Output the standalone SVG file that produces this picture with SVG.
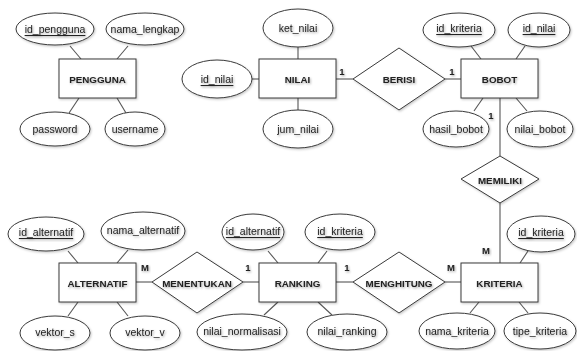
<svg xmlns="http://www.w3.org/2000/svg" width="577" height="351" viewBox="0 0 577 351">
  <defs>
    <filter id="soft" x="-20%" y="-20%" width="140%" height="150%">
      <feDropShadow dx="1" dy="1.2" stdDeviation="0.8" flood-color="#000" flood-opacity="0.35"/>
    </filter>
    <filter id="faint" x="-20%" y="-20%" width="140%" height="150%">
      <feDropShadow dx="1" dy="1.2" stdDeviation="0.9" flood-color="#000" flood-opacity="0.22"/>
    </filter>
  </defs>
  <style>
    .ent { fill: #fff; stroke: #3a3a3a; stroke-width: 1; filter: url(#faint); }
    .rel { fill: #fff; stroke: #3a3a3a; stroke-width: 1; filter: url(#faint); }
    .att { fill: #fff; stroke: #3a3a3a; stroke-width: 1; filter: url(#faint); }
    .lnk { stroke: #555; stroke-width: 1.1; fill: none; }
    text { font-family: "Liberation Sans", Arial, sans-serif; fill: #222; text-anchor: middle; dominant-baseline: central; filter: url(#soft); }
    .t-ent { font-size: 9.8px; font-weight: bold; }
    .t-rel { font-size: 9.8px; font-weight: bold; }
    .t-att { font-size: 10.5px; }
    .key { text-decoration: underline; }
    .card { font-size: 9.5px; font-weight: bold; }
  </style>

  <rect width="577" height="351" fill="#fff"/>

  <!-- connectors -->
  <g id="connectors">
    <!-- PENGGUNA attributes -->
    <line class="lnk" x1="70" y1="46" x2="81" y2="59"/>
    <line class="lnk" x1="128" y1="46" x2="117" y2="59"/>
    <line class="lnk" x1="69" y1="113" x2="79" y2="98"/>
    <line class="lnk" x1="126" y1="113" x2="117" y2="98"/>
    <!-- NILAI attributes -->
    <line class="lnk" x1="298" y1="47" x2="298" y2="59"/>
    <line class="lnk" x1="252" y1="79" x2="259" y2="79"/>
    <line class="lnk" x1="298" y1="98" x2="298" y2="110"/>
    <!-- NILAI - BERISI - BOBOT -->
    <line class="lnk" x1="336" y1="79" x2="353" y2="79"/>
    <line class="lnk" x1="445" y1="79" x2="461" y2="79"/>
    <!-- BOBOT attributes -->
    <line class="lnk" x1="471" y1="46" x2="481" y2="59"/>
    <line class="lnk" x1="525" y1="46" x2="516" y2="59"/>
    <line class="lnk" x1="474" y1="111" x2="483" y2="98"/>
    <line class="lnk" x1="516" y1="98" x2="527" y2="111"/>
    <!-- BOBOT - MEMILIKI - KRITERIA -->
    <line class="lnk" x1="500" y1="98" x2="500" y2="156"/>
    <line class="lnk" x1="500" y1="203" x2="500" y2="263"/>
    <!-- KRITERIA attributes -->
    <line class="lnk" x1="520" y1="263" x2="528" y2="251"/>
    <line class="lnk" x1="470" y1="313" x2="479" y2="302"/>
    <line class="lnk" x1="519" y1="302" x2="528" y2="313"/>
    <!-- RANKING - MENGHITUNG - KRITERIA -->
    <line class="lnk" x1="336" y1="282" x2="353" y2="282"/>
    <line class="lnk" x1="445" y1="282" x2="461" y2="282"/>
    <!-- RANKING attributes -->
    <line class="lnk" x1="268" y1="251" x2="278" y2="263"/>
    <line class="lnk" x1="327" y1="251" x2="318" y2="263"/>
    <line class="lnk" x1="278" y1="302" x2="264" y2="315"/>
    <line class="lnk" x1="318" y1="302" x2="332" y2="315"/>
    <!-- ALTERNATIF - MENENTUKAN - RANKING -->
    <line class="lnk" x1="136" y1="282" x2="152" y2="282"/>
    <line class="lnk" x1="243" y1="282" x2="259" y2="282"/>
    <!-- ALTERNATIF attributes -->
    <line class="lnk" x1="68" y1="251" x2="78" y2="263"/>
    <line class="lnk" x1="128" y1="250" x2="117" y2="263"/>
    <line class="lnk" x1="78" y1="302" x2="68" y2="316"/>
    <line class="lnk" x1="117" y1="302" x2="128" y2="316"/>
  </g>

  <!-- PENGGUNA -->
  <g id="pengguna">
    <rect class="ent" x="59" y="59" width="77" height="39"/>
    <text class="t-ent" x="97.5" y="79">PENGGUNA</text>
  </g>
  <g id="pengguna-id">
    <ellipse class="att" cx="55" cy="29" rx="39" ry="16"/>
    <text class="t-att key" x="55" y="29">id_pengguna</text>
  </g>
  <g id="pengguna-nama">
    <ellipse class="att" cx="145" cy="29" rx="39" ry="16"/>
    <text class="t-att" x="145" y="29">nama_lengkap</text>
  </g>
  <g id="pengguna-password">
    <ellipse class="att" cx="55" cy="129" rx="35" ry="17"/>
    <text class="t-att" x="55" y="129">password</text>
  </g>
  <g id="pengguna-username">
    <ellipse class="att" cx="135" cy="129" rx="30" ry="17"/>
    <text class="t-att" x="135" y="129">username</text>
  </g>

  <!-- NILAI -->
  <g id="nilai">
    <rect class="ent" x="259" y="59" width="77" height="39"/>
    <text class="t-ent" x="297.5" y="79">NILAI</text>
  </g>
  <g id="nilai-ket">
    <ellipse class="att" cx="298" cy="28" rx="35" ry="19"/>
    <text class="t-att" x="298" y="28">ket_nilai</text>
  </g>
  <g id="nilai-id">
    <ellipse class="att" cx="217" cy="79" rx="35" ry="19"/>
    <text class="t-att key" x="217" y="79">id_nilai</text>
  </g>
  <g id="nilai-jum">
    <ellipse class="att" cx="298" cy="129" rx="35" ry="19"/>
    <text class="t-att" x="298" y="129">jum_nilai</text>
  </g>

  <!-- BERISI -->
  <g id="berisi">
    <polygon class="rel" points="399,48 445,79 399,110 353,79"/>
    <text class="t-rel" x="399" y="79">BERISI</text>
    <text class="card" x="342" y="71">1</text>
    <text class="card" x="452" y="71">1</text>
  </g>

  <!-- BOBOT -->
  <g id="bobot">
    <rect class="ent" x="461" y="59" width="77" height="39"/>
    <text class="t-ent" x="499.5" y="79">BOBOT</text>
  </g>
  <g id="bobot-idkriteria">
    <ellipse class="att" cx="459" cy="30" rx="36" ry="17"/>
    <text class="t-att key" x="459" y="28">id_kriteria</text>
  </g>
  <g id="bobot-idnilai">
    <ellipse class="att" cx="539" cy="30" rx="31" ry="17"/>
    <text class="t-att key" x="539" y="28">id_nilai</text>
  </g>
  <g id="bobot-hasil">
    <ellipse class="att" cx="456" cy="129" rx="33" ry="18"/>
    <text class="t-att" x="456" y="129">hasil_bobot</text>
  </g>
  <g id="bobot-nilai">
    <ellipse class="att" cx="540" cy="129" rx="33" ry="18"/>
    <text class="t-att" x="540" y="129">nilai_bobot</text>
  </g>
  <text class="card" x="491" y="115">1</text>

  <!-- MEMILIKI -->
  <g id="memiliki">
    <polygon class="rel" points="500,156 539,179 500,203 461,179"/>
    <text class="t-rel" x="500" y="180">MEMILIKI</text>
  </g>

  <!-- KRITERIA -->
  <g id="kriteria">
    <rect class="ent" x="461" y="263" width="77" height="39"/>
    <text class="t-ent" x="499.5" y="283">KRITERIA</text>
    <text class="card" x="486" y="250">M</text>
    <text class="card" x="451" y="267">M</text>
  </g>
  <g id="kriteria-id">
    <ellipse class="att" cx="541" cy="234" rx="34" ry="18"/>
    <text class="t-att key" x="541" y="232">id_kriteria</text>
  </g>
  <g id="kriteria-nama">
    <ellipse class="att" cx="457" cy="331" rx="38" ry="18"/>
    <text class="t-att" x="457" y="331">nama_kriteria</text>
  </g>
  <g id="kriteria-tipe">
    <ellipse class="att" cx="540" cy="331" rx="36" ry="18"/>
    <text class="t-att" x="540" y="331">tipe_kriteria</text>
  </g>

  <!-- MENGHITUNG -->
  <g id="menghitung">
    <polygon class="rel" points="399,252 445,282 399,313 353,282"/>
    <text class="t-rel" x="399" y="283">MENGHITUNG</text>
    <text class="card" x="347" y="267">1</text>
  </g>

  <!-- RANKING -->
  <g id="ranking">
    <rect class="ent" x="259" y="263" width="77" height="39"/>
    <text class="t-ent" x="297.5" y="283">RANKING</text>
    <text class="card" x="248" y="267">1</text>
  </g>
  <g id="ranking-idalternatif">
    <ellipse class="att" cx="253" cy="232" rx="31" ry="18"/>
    <text class="t-att key" x="253" y="231">id_alternatif</text>
  </g>
  <g id="ranking-idkriteria">
    <ellipse class="att" cx="340" cy="232" rx="35" ry="18"/>
    <text class="t-att key" x="340" y="231">id_kriteria</text>
  </g>
  <g id="ranking-normalisasi">
    <ellipse class="att" cx="242" cy="332" rx="45" ry="18"/>
    <text class="t-att" x="242" y="331">nilai_normalisasi</text>
  </g>
  <g id="ranking-nilai">
    <ellipse class="att" cx="347" cy="332" rx="40" ry="18"/>
    <text class="t-att" x="347" y="331">nilai_ranking</text>
  </g>

  <!-- MENENTUKAN -->
  <g id="menentukan">
    <polygon class="rel" points="197,252 243,282 197,313 152,282"/>
    <text class="t-rel" x="197" y="283">MENENTUKAN</text>
  </g>

  <!-- ALTERNATIF -->
  <g id="alternatif">
    <rect class="ent" x="59" y="263" width="77" height="39"/>
    <text class="t-ent" x="97.5" y="283">ALTERNATIF</text>
    <text class="card" x="145" y="267">M</text>
  </g>
  <g id="alternatif-id">
    <ellipse class="att" cx="46" cy="234" rx="38" ry="17"/>
    <text class="t-att key" x="46" y="232">id_alternatif</text>
  </g>
  <g id="alternatif-nama">
    <ellipse class="att" cx="143" cy="231" rx="42" ry="19"/>
    <text class="t-att" x="143" y="230">nama_alternatif</text>
  </g>
  <g id="alternatif-vs">
    <ellipse class="att" cx="55" cy="333" rx="35" ry="17"/>
    <text class="t-att" x="55" y="332">vektor_s</text>
  </g>
  <g id="alternatif-vv">
    <ellipse class="att" cx="145" cy="333" rx="35" ry="17"/>
    <text class="t-att" x="145" y="332">vektor_v</text>
  </g>
</svg>
